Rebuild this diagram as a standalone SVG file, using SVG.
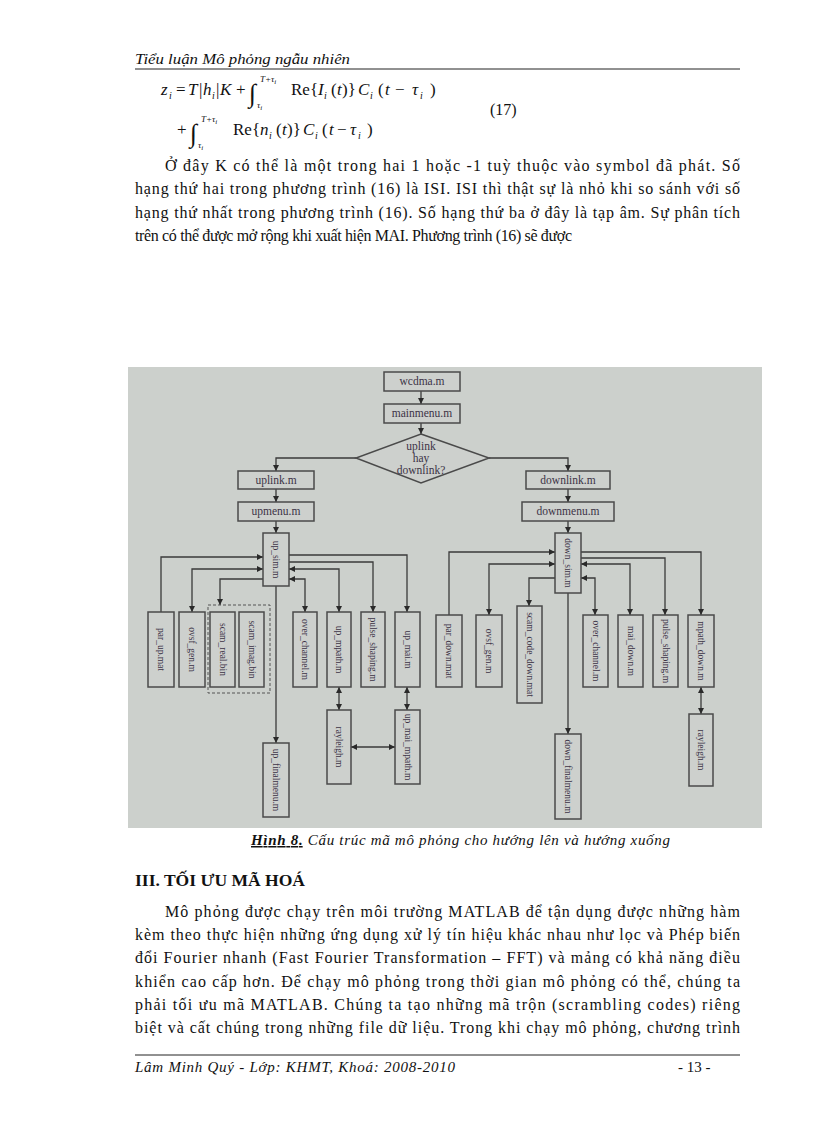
<svg xmlns="http://www.w3.org/2000/svg" width="816" height="1123" viewBox="0 0 816 1123">
<defs>
<style>
.pg{font-family:"Liberation Serif","Times New Roman",serif;fill:#111}
.p16{font-size:16px}
.p15{font-size:15px}
.it{font-style:italic}
.fm{font-family:"Liberation Serif","Times New Roman",serif;font-size:17px;fill:#111}
.fi{font-style:italic}
.sb{font-size:10px;font-style:italic}
.int{font-family:"Liberation Serif","Times New Roman",serif;font-size:26px;fill:#111}
.lim{font-family:"Liberation Serif","Times New Roman",serif;font-size:9px;font-style:italic;fill:#111}
.bx{fill:#cdd0cd;stroke:#4a4a4a;stroke-width:1.5}
.lb{font-family:"Liberation Serif","Times New Roman",serif;font-size:11.5px;fill:#3c3346;text-anchor:middle}
.vl{font-family:"Liberation Serif","Times New Roman",serif;font-size:9.5px;fill:#3c3346;text-anchor:middle;dominant-baseline:central}
.cn{fill:none;stroke:#3a3a3a;stroke-width:1.3}
.rule{stroke:#222;stroke-width:1}
</style>
<marker id="ah" viewBox="0 0 10 10" refX="10" refY="5" markerWidth="6" markerHeight="6" markerUnits="userSpaceOnUse" orient="auto-start-reverse">
<path d="M0,0 L10,5 L0,10 z" fill="#2a2a2a"/>
</marker>
</defs>
<rect width="816" height="1123" fill="#fff"/>

<!-- header -->
<text x="135" y="64" class="pg p15 it" textLength="215" lengthAdjust="spacingAndGlyphs">Tiểu luận Mô phỏng ngẫu nhiên</text>
<line x1="135" y1="69" x2="740" y2="69" class="rule"/>

<!-- formula -->
<g id="formula">
<text y="95" class="fm"><tspan x="161" class="fi">z</tspan><tspan x="169" dy="4" class="sb">i</tspan><tspan x="176" dy="-4">=</tspan><tspan x="188" class="fi">T</tspan><tspan x="199">|</tspan><tspan x="203" class="fi">h</tspan><tspan x="212" dy="4" class="sb">i</tspan><tspan x="216" dy="-4">|</tspan><tspan x="220" class="fi">K</tspan><tspan x="236">+</tspan></text>
<text x="249" y="102" class="int">∫</text>
<text x="260" y="82" class="lim">T+τ<tspan dy="2" style="font-size:7px">i</tspan></text>
<text x="257" y="108" class="lim">τ<tspan dy="2" style="font-size:7px">i</tspan></text>
<text y="95" class="fm"><tspan x="291">Re{</tspan><tspan x="318" class="fi">I</tspan><tspan x="324" dy="4" class="sb">i</tspan><tspan x="331" dy="-4">(</tspan><tspan x="337" class="fi">t</tspan><tspan x="342">)}</tspan><tspan x="358" class="fi">C</tspan><tspan x="370" dy="4" class="sb">i</tspan><tspan x="378" dy="-4">(</tspan><tspan x="385" class="fi">t</tspan><tspan x="395">−</tspan><tspan x="412" class="fi">τ</tspan><tspan x="420" dy="4" class="sb">i</tspan><tspan x="430" dy="-4">)</tspan></text>
<text x="490" y="115" class="fm" style="font-size:16px">(17)</text>
<text x="177" y="135" class="fm">+</text>
<text x="190" y="142" class="int">∫</text>
<text x="201" y="122" class="lim">T+τ<tspan dy="2" style="font-size:7px">i</tspan></text>
<text x="198" y="148" class="lim">τ<tspan dy="2" style="font-size:7px">i</tspan></text>
<text y="135" class="fm"><tspan x="233">Re{</tspan><tspan x="260" class="fi">n</tspan><tspan x="269" dy="4" class="sb">i</tspan><tspan x="276" dy="-4">(</tspan><tspan x="282" class="fi">t</tspan><tspan x="287">)}</tspan><tspan x="303" class="fi">C</tspan><tspan x="315" dy="4" class="sb">i</tspan><tspan x="322" dy="-4">(</tspan><tspan x="329" class="fi">t</tspan><tspan x="337">−</tspan><tspan x="350" class="fi">τ</tspan><tspan x="358" dy="4" class="sb">i</tspan><tspan x="367" dy="-4">)</tspan></text>
</g>

<!-- paragraph 1 -->
<text x="165" y="171" class="pg p16" textLength="575" lengthAdjust="spacing">Ở đây K có thể là một trong hai  1 hoặc  -1 tuỳ thuộc vào  symbol  đã phát.  Số</text>
<text x="135" y="194" class="pg p16" textLength="605" lengthAdjust="spacing">hạng thứ hai trong phương trình (16) là ISI.  ISI thì thật sự là nhỏ khi so sánh với số</text>
<text x="135" y="218" class="pg p16" textLength="605" lengthAdjust="spacing">hạng thứ nhất trong phương trình (16). Số hạng thứ ba ở đây là tạp âm. Sự phân tích</text>
<text x="135" y="241" class="pg p16" textLength="437" lengthAdjust="spacing">trên có thể được mở rộng khi xuất hiện MAI.  Phương trình (16) sẽ được</text>

<!-- diagram background -->
<rect x="128" y="367" width="634" height="461" fill="#ccd0cc"/>

<!-- connectors -->
<g id="connectors">
<path class="cn" d="M421 391 V404" marker-end="url(#ah)"/>
<path class="cn" d="M421 423 V434" marker-end="url(#ah)"/>
<path class="cn" d="M356 458 H276 V471" marker-end="url(#ah)"/>
<path class="cn" d="M489 458 H568 V471" marker-end="url(#ah)"/>
<path class="cn" d="M276 489 V502" marker-end="url(#ah)"/>
<path class="cn" d="M276 521 V533" marker-end="url(#ah)"/>
<path class="cn" d="M568 489 V502" marker-end="url(#ah)"/>
<path class="cn" d="M568 521 V533" marker-end="url(#ah)"/>
<!-- uplink side -->
<path class="cn" d="M161 612 V557 H263" marker-end="url(#ah)"/>
<path class="cn" d="M263 569 H192 V612" marker-start="url(#ah)" marker-end="url(#ah)"/>
<path class="cn" d="M263 579 H220 V605" marker-end="url(#ah)"/>
<path class="cn" d="M289 555 H407 V612" marker-end="url(#ah)"/>
<path class="cn" d="M289 562 H373 V612" marker-end="url(#ah)"/>
<path class="cn" d="M289 569 H339 V612" marker-start="url(#ah)" marker-end="url(#ah)"/>
<path class="cn" d="M289 579 H305 V612" marker-start="url(#ah)" marker-end="url(#ah)"/>
<path class="cn" d="M276 586 V743" marker-end="url(#ah)"/>
<path class="cn" d="M339 687 V710" marker-start="url(#ah)" marker-end="url(#ah)"/>
<path class="cn" d="M407 687 V710" marker-start="url(#ah)" marker-end="url(#ah)"/>
<path class="cn" d="M351 747 H395" marker-start="url(#ah)" marker-end="url(#ah)"/>
<!-- downlink side -->
<path class="cn" d="M449 615 V552 H555" marker-end="url(#ah)"/>
<path class="cn" d="M555 564 H489 V615" marker-start="url(#ah)" marker-end="url(#ah)"/>
<path class="cn" d="M555 578 H529 V606" marker-end="url(#ah)"/>
<path class="cn" d="M581 552 H701 V615" marker-end="url(#ah)"/>
<path class="cn" d="M581 558 H665 V615" marker-end="url(#ah)"/>
<path class="cn" d="M581 564 H630 V615" marker-start="url(#ah)" marker-end="url(#ah)"/>
<path class="cn" d="M581 578 H595 V615" marker-start="url(#ah)" marker-end="url(#ah)"/>
<path class="cn" d="M568 593 V734" marker-end="url(#ah)"/>
<path class="cn" d="M701 687 V714" marker-start="url(#ah)" marker-end="url(#ah)"/>
</g>

<!-- top nodes -->
<g id="wcdma"><rect class="bx" x="384" y="372" width="76" height="19"/><text class="lb" x="422" y="385">wcdma.m</text></g>
<g id="mainmenu"><rect class="bx" x="384" y="404" width="76" height="19"/><text class="lb" x="422" y="417">mainmenu.m</text></g>
<g id="decision"><path class="bx" d="M421 434 L489 458 L421 483 L356 458 Z"/>
<text class="lb" x="421" y="450">uplink</text><text class="lb" x="421" y="462">hay</text><text class="lb" x="421" y="474">downlink?</text></g>
<g id="uplink"><rect class="bx" x="238" y="471" width="76" height="18"/><text class="lb" x="276" y="484">uplink.m</text></g>
<g id="upmenu"><rect class="bx" x="238" y="502" width="76" height="19"/><text class="lb" x="276" y="515">upmenu.m</text></g>
<g id="downlink"><rect class="bx" x="526" y="471" width="84" height="18"/><text class="lb" x="568" y="484">downlink.m</text></g>
<g id="downmenu"><rect class="bx" x="522" y="502" width="92" height="19"/><text class="lb" x="568" y="515">downmenu.m</text></g>

<!-- uplink nodes -->
<g id="up_sim"><rect class="bx" x="263" y="533" width="26" height="53"/><text class="vl" transform="translate(276 559.5) rotate(90)">up_sim.m</text></g>
<g id="par_up"><rect class="bx" x="148" y="612" width="26" height="75"/><text class="vl" transform="translate(161 649.5) rotate(90)">par_up.mat</text></g>
<g id="ovsf_up"><rect class="bx" x="179" y="612" width="26" height="75"/><text class="vl" transform="translate(192 649.5) rotate(90)">ovsf_gen.m</text></g>
<g id="scam_group"><rect x="208" y="605" width="62" height="88" fill="none" stroke="#555" stroke-width="1" stroke-dasharray="3 2"/></g>
<g id="scam_real"><rect class="bx" x="210" y="612" width="25" height="75"/><text class="vl" transform="translate(222.5 649.5) rotate(90)">scam_real.bin</text></g>
<g id="scam_imag"><rect class="bx" x="239" y="612" width="25" height="75"/><text class="vl" transform="translate(251.5 649.5) rotate(90)">scam_imag.bin</text></g>
<g id="over_channel_up"><rect class="bx" x="293" y="612" width="24" height="75"/><text class="vl" transform="translate(305 649.5) rotate(90)">over_channel.m</text></g>
<g id="up_mpath"><rect class="bx" x="327" y="612" width="24" height="75"/><text class="vl" transform="translate(339 649.5) rotate(90)">up_mpath.m</text></g>
<g id="pulse_up"><rect class="bx" x="361" y="612" width="24" height="75"/><text class="vl" transform="translate(373 649.5) rotate(90)">pulse_shaping.m</text></g>
<g id="up_mai"><rect class="bx" x="395" y="612" width="25" height="75"/><text class="vl" transform="translate(407.5 649.5) rotate(90)">up_mai.m</text></g>
<g id="rayleigh_up"><rect class="bx" x="327" y="710" width="24" height="74"/><text class="vl" transform="translate(339 747) rotate(90)">rayleigh.m</text></g>
<g id="up_mai_mpath"><rect class="bx" x="395" y="710" width="25" height="74"/><text class="vl" transform="translate(407.5 747) rotate(90)">up_mai_mpath.m</text></g>
<g id="up_finalmenu"><rect class="bx" x="263" y="743" width="26" height="74"/><text class="vl" transform="translate(276 780) rotate(90)">up_finalmenu.m</text></g>

<!-- downlink nodes -->
<g id="down_sim"><rect class="bx" x="555" y="533" width="26" height="60"/><text class="vl" transform="translate(568 563) rotate(90)">down_sim.m</text></g>
<g id="par_down"><rect class="bx" x="436" y="615" width="26" height="72"/><text class="vl" transform="translate(449 651) rotate(90)">par_down.mat</text></g>
<g id="ovsf_down"><rect class="bx" x="476" y="615" width="26" height="72"/><text class="vl" transform="translate(489 651) rotate(90)">ovsf_gen.m</text></g>
<g id="scam_code_down"><rect class="bx" x="517" y="606" width="25" height="97"/><text class="vl" transform="translate(529.5 654.5) rotate(90)">scam_code_down.mat</text></g>
<g id="over_channel_down"><rect class="bx" x="583" y="615" width="25" height="72"/><text class="vl" transform="translate(595.5 651) rotate(90)">over_channel.m</text></g>
<g id="mai_down"><rect class="bx" x="618" y="615" width="25" height="72"/><text class="vl" transform="translate(630.5 651) rotate(90)">mai_down.m</text></g>
<g id="pulse_down"><rect class="bx" x="653" y="615" width="25" height="72"/><text class="vl" transform="translate(665.5 651) rotate(90)">pulse_shaping.m</text></g>
<g id="mpath_down"><rect class="bx" x="688" y="615" width="26" height="72"/><text class="vl" transform="translate(701 651) rotate(90)">mpath_down.m</text></g>
<g id="rayleigh_down"><rect class="bx" x="689" y="714" width="24" height="72"/><text class="vl" transform="translate(701 750) rotate(90)">rayleigh.m</text></g>
<g id="down_finalmenu"><rect class="bx" x="555" y="734" width="26" height="85"/><text class="vl" transform="translate(568 776.5) rotate(90)">down_finalmenu.m</text></g>

<!-- caption -->
<text x="251" y="845" class="pg p15 it" textLength="419" lengthAdjust="spacing"><tspan font-weight="bold" text-decoration="underline">Hình 8.</tspan> Cấu trúc mã mô phỏng cho hướng lên và hướng xuống</text>

<!-- heading -->
<text x="135" y="886" class="pg p16" font-weight="bold" textLength="170" lengthAdjust="spacingAndGlyphs">III. TỐI ƯU MÃ HOÁ</text>

<!-- paragraph 2 -->
<text x="165" y="917" class="pg p16" textLength="575" lengthAdjust="spacing">Mô phỏng  được chạy trên môi trường MATLAB  để tận dụng được những  hàm</text>
<text x="135" y="940" class="pg p16" textLength="605" lengthAdjust="spacing">kèm theo thực hiện những  ứng  dụng  xử lý tín hiệu khác nhau như lọc và  Phép biến</text>
<text x="135" y="963" class="pg p16" textLength="605" lengthAdjust="spacing">đổi Fourier nhanh  (Fast Fourier Transformation  – FFT)  và mảng có khả năng  điều</text>
<text x="135" y="987" class="pg p16" textLength="605" lengthAdjust="spacing">khiển  cao cấp hơn. Để chạy mô phỏng trong thời gian mô phỏng có thể, chúng  ta</text>
<text x="135" y="1010" class="pg p16" textLength="605" lengthAdjust="spacing">phải  tối ưu mã MATLAB.  Chúng ta tạo những  mã trộn (scrambling codes) riêng</text>
<text x="135" y="1033" class="pg p16" textLength="605" lengthAdjust="spacing">biệt và  cất chúng  trong những  file dữ liệu. Trong khi chạy mô phỏng,  chương trình</text>

<!-- footer -->
<line x1="135" y1="1055" x2="740" y2="1055" class="rule"/>
<text x="135" y="1072" class="pg p15 it" textLength="320" lengthAdjust="spacing">Lâm Minh Quý - Lớp: KHMT, Khoá: 2008-2010</text>
<text x="678" y="1072" class="pg p15">- 13 -</text>
</svg>
